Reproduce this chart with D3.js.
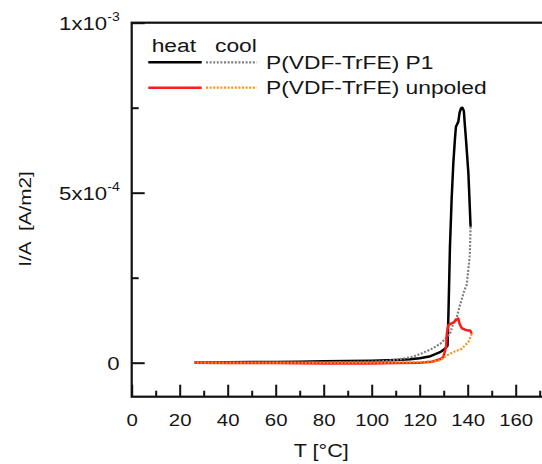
<!DOCTYPE html>
<html>
<head>
<meta charset="utf-8">
<script src="https://cdn.jsdelivr.net/npm/d3@7"></script>
<style>
  html, body { margin: 0; padding: 0; background: #fff; }
  svg { display: block; }
  text { font-family: "Liberation Sans", Arial, sans-serif; fill: #151515; }
</style>
</head>
<body>
<svg id="chart" width="542" height="464"></svg>
<script>
// ---- data (T in °C, I/A in A/m2) ----
const tempP1Heat = [26, 40, 50, 60, 70, 80, 90, 100, 110, 116, 120, 124, 128.5, 130.5, 131.6, 132.0, 132.6, 133.3, 134.0, 134.7, 135.1, 136.1, 136.6, 137.2, 137.8, 138.4, 138.8, 139.3, 140.3, 141.2];
const iP1Heat    = [0, 0.01e-4, 0.02e-4, 0.02e-4, 0.03e-4, 0.04e-4, 0.05e-4, 0.06e-4, 0.08e-4, 0.1e-4, 0.13e-4, 0.18e-4, 0.31e-4, 0.41e-4, 0.5e-4, 1.5e-4, 3.4e-4, 4.8e-4, 5.86e-4, 6.6e-4, 6.94e-4, 7.09e-4, 7.35e-4, 7.48e-4, 7.5e-4, 7.4e-4, 7.0e-4, 6.55e-4, 5.56e-4, 4.0e-4];

const tempP1Cool = [141.2, 140.9, 140.5, 139.6, 138.5, 136.8, 135.5, 134.0, 132.6, 131.3, 128.5, 124.3, 120, 117.3, 112, 106, 100, 80, 60, 40, 26];
const iP1Cool    = [4.0e-4, 3.2e-4, 2.9e-4, 2.3e-4, 2.1e-4, 1.7e-4, 1.35e-4, 1.15e-4, 0.85e-4, 0.75e-4, 0.55e-4, 0.38e-4, 0.25e-4, 0.18e-4, 0.1e-4, 0.05e-4, 0.03e-4, 0.01e-4, 0, 0, 0];

const tempUnHeat = [26, 40, 60, 80, 100, 110, 120, 125, 128.5, 129.8, 131.0, 131.3, 131.9, 133.0, 134.0, 135.4, 136.1, 136.6, 137.5, 138.9, 140.0, 141.0, 141.7];
const iUnHeat    = [0, -0.01e-4, -0.01e-4, -0.02e-4, -0.02e-4, -0.01e-4, 0, 0.03e-4, 0.1e-4, 0.16e-4, 0.46e-4, 0.85e-4, 1.1e-4, 1.15e-4, 1.18e-4, 1.27e-4, 1.3e-4, 1.15e-4, 1.02e-4, 0.97e-4, 0.95e-4, 0.95e-4, 0.85e-4];

const tempUnCool = [141.7, 140.3, 137.5, 134.0, 131.3, 128.5, 122.9, 115, 100, 80, 60, 40, 26];
const iUnCool    = [0.85e-4, 0.61e-4, 0.41e-4, 0.31e-4, 0.21e-4, 0.07e-4, 0.02e-4, 0.01e-4, 0, 0, 0, 0, 0];

const xMajorTicks = [0, 20, 40, 60, 80, 100, 120, 140, 160];
const xMinorTicks = [10, 30, 50, 70, 90, 110, 130, 150, 170];
const yMajorTicks = [0, 5e-4, 1e-3];
const yMinorTicks = [2.5e-4, 7.5e-4];
const yTickMantissa = ["0", "5x10", "1x10"];
const yTickExponent = ["", "-4", "-3"];

const legendHeaders = ["heat", "cool"];
const seriesNames = ["P(VDF-TrFE) P1", "P(VDF-TrFE) unpoled"];
const heatColors = ["#000000", "#ff1a1a"];
const coolColors = ["#7f7f7f", "#ff9010"];

// ---- layout ----
const svg = d3.select("#chart");
const x = d3.scaleLinear().domain([0, 180]).range([131.7, 563.7]);
const y = d3.scaleLinear().domain([-1e-4, 1e-3]).range([396.7, 22.7]);
const SX = 1.2; // horizontal stretch of the original glyphs

// frame
svg.append("rect")
  .attr("x", x(0)).attr("y", y(1e-3))
  .attr("width", x(180) - x(0)).attr("height", y(-1e-4) - y(1e-3))
  .attr("fill", "none").attr("stroke", "#111").attr("stroke-width", 2.2);

// x axis ticks
const gx = svg.append("g").attr("transform", `translate(0,${y(-1e-4)})`);
gx.call(d3.axisBottom(x).tickValues(xMajorTicks).tickSize(-12).tickSizeOuter(0).tickFormat(d3.format("d")));
gx.select(".domain").remove();
gx.selectAll(".tick line").attr("stroke", "#111").attr("stroke-width", 2);
gx.selectAll(".tick text")
  .attr("y", 0).attr("dy", null)
  .attr("transform", `translate(0,29) scale(${SX},1)`)
  .style("font-size", "17px").attr("fill", "#151515")
  .style("font-family", '"Liberation Sans", Arial, sans-serif');
const gxm = svg.append("g").attr("transform", `translate(0,${y(-1e-4)})`);
gxm.call(d3.axisBottom(x).tickValues(xMinorTicks).tickSize(-6).tickSizeOuter(0).tickFormat(""));
gxm.select(".domain").remove();
gxm.selectAll(".tick line").attr("stroke", "#111").attr("stroke-width", 2);

// y axis ticks
const gy = svg.append("g").attr("transform", `translate(${x(0)},0)`);
gy.call(d3.axisLeft(y).tickValues(yMajorTicks).tickSize(-13).tickSizeOuter(0).tickFormat(""));
gy.select(".domain").remove();
gy.selectAll(".tick line").attr("stroke", "#111").attr("stroke-width", 2);
const gym = svg.append("g").attr("transform", `translate(${x(0)},0)`);
gym.call(d3.axisLeft(y).tickValues(yMinorTicks).tickSize(-7).tickSizeOuter(0).tickFormat(""));
gym.select(".domain").remove();
gym.selectAll(".tick line").attr("stroke", "#111").attr("stroke-width", 2);

// y tick labels with superscripts
yMajorTicks.forEach((v, i) => {
  const t = svg.append("text")
    .attr("transform", `translate(${x(0) - 12},${y(v) + 7.2}) scale(1.17,1)`)
    .attr("text-anchor", "end").style("font-size", "19px");
  t.append("tspan").text(yTickMantissa[i]);
  if (yTickExponent[i]) {
    t.append("tspan").attr("dy", -9).style("font-size", "12px").text(yTickExponent[i]);
  }
});

// axis titles
svg.append("text")
  .attr("transform", `translate(${x(79)},457) scale(${SX},1)`)
  .attr("text-anchor", "middle").style("font-size", "18px")
  .text("T [°C]");
svg.append("text")
  .attr("transform", `translate(30.5,219) rotate(-90) scale(1.22,1)`)
  .attr("text-anchor", "middle").style("font-size", "17px")
  .style("white-space", "pre")
  .text("I/A  [A/m2]");

// curves
const line = d3.line().x(d => x(d[0])).y(d => y(d[1]));
const zip = (a, b) => a.map((t, i) => [t, b[i]]);

svg.append("path").datum(zip(tempP1Heat, iP1Heat)).attr("d", line)
  .attr("fill", "none").attr("stroke", heatColors[0]).attr("stroke-width", 2.5).attr("stroke-linejoin", "round");
svg.append("path").datum(zip(tempP1Cool, iP1Cool)).attr("d", line)
  .attr("fill", "none").attr("stroke", coolColors[0]).attr("stroke-width", 2.2).attr("stroke-dasharray", "2,1.6");
svg.append("path").datum(zip(tempUnHeat, iUnHeat)).attr("d", line)
  .attr("fill", "none").attr("stroke", heatColors[1]).attr("stroke-width", 2.5).attr("stroke-linejoin", "round");
svg.append("path").datum(zip(tempUnCool, iUnCool)).attr("d", line)
  .attr("fill", "none").attr("stroke", coolColors[1]).attr("stroke-width", 2.2).attr("stroke-dasharray", "2,1.6");

// legend
const hdrX = [151.7, 215];
legendHeaders.forEach((h, i) => {
  svg.append("text")
    .attr("transform", `translate(${hdrX[i]},51.7) scale(${SX},1)`)
    .style("font-size", "19px").text(h);
});
const rowY = [62.3, 87.7];
seriesNames.forEach((name, i) => {
  svg.append("line").attr("x1", 148.3).attr("x2", 201.7).attr("y1", rowY[i]).attr("y2", rowY[i])
    .attr("stroke", heatColors[i]).attr("stroke-width", 2.6);
  svg.append("line").attr("x1", 206).attr("x2", 256.7).attr("y1", rowY[i]).attr("y2", rowY[i])
    .attr("stroke", coolColors[i]).attr("stroke-width", 2.2).attr("stroke-dasharray", "2,1.6");
  svg.append("text")
    .attr("transform", `translate(266,${rowY[i] + 6.6}) scale(${SX},1)`)
    .style("font-size", "19px").text(name);
});
</script>
</body>
</html>
